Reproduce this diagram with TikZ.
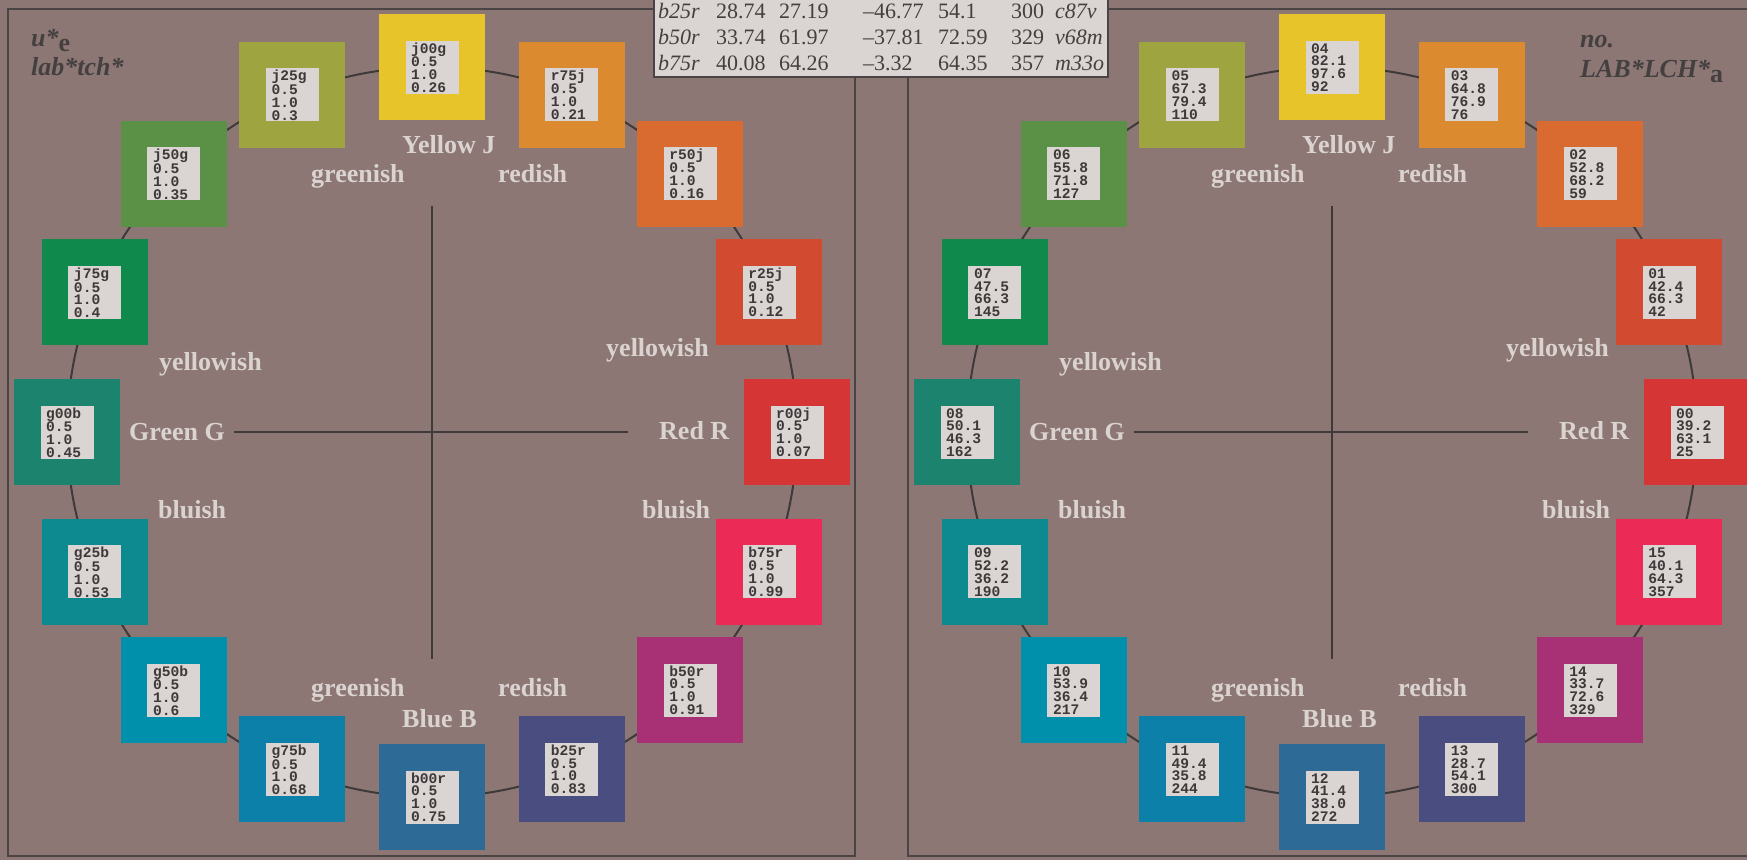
\documentclass[tikz,border=0pt]{standalone}
\usepackage{fontspec}
\setmainfont{Liberation Serif}
\setmonofont{Liberation Mono}
\definecolor{bg}{HTML}{8C7775}
\definecolor{framec}{HTML}{4A4444}
\definecolor{ringc}{HTML}{3E3A3A}
\definecolor{lightt}{HTML}{DAD3D0}
\definecolor{darkt}{HTML}{454040}
\definecolor{boxc}{HTML}{DAD4D2}
\definecolor{monot}{HTML}{3E3939}
\definecolor{c0}{HTML}{E6C42A}
\definecolor{c1}{HTML}{9EA43F}
\definecolor{c2}{HTML}{5A9147}
\definecolor{c3}{HTML}{0F8A4C}
\definecolor{c4}{HTML}{1C846E}
\definecolor{c5}{HTML}{0D8A8F}
\definecolor{c6}{HTML}{0090AB}
\definecolor{c7}{HTML}{0C80A8}
\definecolor{c8}{HTML}{2D6A96}
\definecolor{c9}{HTML}{4A4D80}
\definecolor{c10}{HTML}{A83075}
\definecolor{c11}{HTML}{EB2A56}
\definecolor{c12}{HTML}{D53535}
\definecolor{c13}{HTML}{D24A30}
\definecolor{c14}{HTML}{D96A30}
\definecolor{c15}{HTML}{DB8A30}
\begin{document}
\begin{tikzpicture}[x=1pt,y=-1pt,
  sq/.style={minimum size=106pt, inner sep=0pt, outer sep=0pt, draw=none},
  inbox/.style={fill=boxc, minimum size=53pt, inner sep=0pt, outer sep=0pt},
  mono/.style={anchor=base west, inner sep=0pt, font=\ttfamily\bfseries\fontsize{14.6}{12.8}\selectfont, text=monot},
  lbl/.style={anchor=base west, inner sep=0pt, font=\bfseries\fontsize{26}{30}\selectfont, text=lightt},
  ttl/.style={anchor=base west, inner sep=0pt, font=\bfseries\itshape\fontsize{26}{30}\selectfont, text=darkt},
  cell/.style={anchor=base west, inner sep=0pt, font=\fontsize{22}{26}\selectfont, text=darkt},
  icell/.style={anchor=base west, inner sep=0pt, font=\itshape\fontsize{22}{26}\selectfont, text=darkt},
  panel/.style={draw=framec, line width=2.2pt},
  ring/.style={draw=ringc, line width=2pt},
  cross/.style={draw=ringc, line width=2pt},
  tablebox/.style={draw=framec, fill=boxc, line width=1.6pt}]
\useasboundingbox (0,0) rectangle (1747,860);
\fill[bg] (0,0) rectangle (1747,860);
% panels
\draw[panel] (8,9) rectangle (855,856);
\draw[panel] (908,9) rectangle (1755,856);
% table box
\draw[tablebox] (654,-3) rectangle (1108,77);
\foreach \p/\off in {L/0,R/900}{
  \coordinate (\p-c) at (432+\off,432);
  \draw[ring] (\p-c) circle[radius=365pt];
  \coordinate (\p-h1) at (234+\off,432);
  \coordinate (\p-h2) at (628+\off,432);
  \coordinate (\p-v1) at (432+\off,206);
  \coordinate (\p-v2) at (432+\off,659);
  \draw[cross] (\p-h1) -- (\p-h2);
  \draw[cross] (\p-v1) -- (\p-v2);
  \foreach \i/\t/\x/\y in {1/Yellow J/402/153, 2/greenish/311/182, 3/redish/498/182,
      4/yellowish/159/370, 5/yellowish/606/356, 6/Green G/129/440, 7/Red R/659/439,
      8/bluish/158/518, 9/bluish/642/518, 10/greenish/311/696, 11/redish/498/696,
      12/Blue B/402/727}{
    \node[lbl] (\p-lb-\i) at (\x+\off,\y) {\t};
  }
}
% squares
\foreach \k/\lname/\lval/\rname/\ra/\rb/\rc in {
  0/j00g/0.26/04/82.1/97.6/92,
  1/j25g/0.3/05/67.3/79.4/110,
  2/j50g/0.35/06/55.8/71.8/127,
  3/j75g/0.4/07/47.5/66.3/145,
  4/g00b/0.45/08/50.1/46.3/162,
  5/g25b/0.53/09/52.2/36.2/190,
  6/g50b/0.6/10/53.9/36.4/217,
  7/g75b/0.68/11/49.4/35.8/244,
  8/b00r/0.75/12/41.4/38.0/272,
  9/b25r/0.83/13/28.7/54.1/300,
  10/b50r/0.91/14/33.7/72.6/329,
  11/b75r/0.99/15/40.1/64.3/357,
  12/r00j/0.07/00/39.2/63.1/25,
  13/r25j/0.12/01/42.4/66.3/42,
  14/r50j/0.16/02/52.8/68.2/59,
  15/r75j/0.21/03/64.8/76.9/76}{
  \pgfmathsetmacro\ang{90+22.5*\k}
  \pgfmathsetmacro\cx{432+365*cos(\ang)}
  \pgfmathsetmacro\cy{432-365*sin(\ang)}
  \node[sq, fill=c\k] (Lsq\k) at (\cx,\cy) {};
  \node[inbox] (Lin\k) at (Lsq\k.center) {};
  \node[mono] (Ltx\k) at (\cx-21,\cy-14) {\vtop{\hbox{\lname}\hbox{0.5}\hbox{1.0}\hbox{\lval}}};
  \node[sq, fill=c\k] (Rsq\k) at (\cx+900,\cy) {};
  \node[inbox] (Rin\k) at (Rsq\k.center) {};
  \node[mono] (Rtx\k) at (\cx+879,\cy-14) {\vtop{\hbox{\rname}\hbox{\ra}\hbox{\rb}\hbox{\rc}}};
}
% titles
\node[ttl] (tl1) at (31,46) {u*\raisebox{-5pt}{\upshape e}};
\node[ttl] (tl2) at (31,75) {lab*tch*};
\node[ttl] (tr1) at (1580,47) {no.};
\node[ttl] (tr2) at (1580,77) {LAB*LCH*\raisebox{-5pt}{\upshape a}};
% table text
\foreach \r/\yy/\a/\b/\c/\d/\e/\f/\g in {
  1/18/b25r/28.74/27.19/–46.77/54.1/300/c87v,
  2/44/b50r/33.74/61.97/–37.81/72.59/329/v68m,
  3/70/b75r/40.08/64.26/–3.32/64.35/357/m33o}{
  \node[icell] (t\r a) at (658,\yy) {\a};
  \node[cell] (t\r b) at (716,\yy) {\b};
  \node[cell] (t\r c) at (779,\yy) {\c};
  \node[cell] (t\r d) at (863,\yy) {\d};
  \node[cell] (t\r e) at (938,\yy) {\e};
  \node[cell] (t\r f) at (1011,\yy) {\f};
  \node[icell] (t\r g) at (1055,\yy) {\g};
}
\end{tikzpicture}
\end{document}
